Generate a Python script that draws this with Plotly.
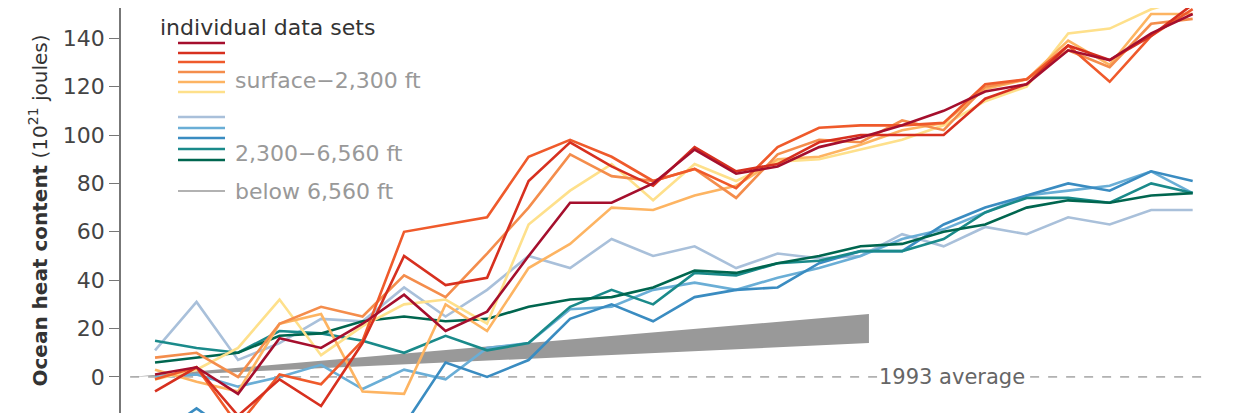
'''
Ocean heat content, individual data sets by depth layer
'''

import plotly.graph_objs as go

years = list(range(1993, 2019))

# surface - 2,300 ft
dark_red = [1, 4, -7, 16, 12, 22, 34, 19, 27, 50, 72, 72, 80, 94, 84, 87,
            95, 99, 104, 110, 118, 121, 135, 131, 142, 150]
red = [-6, 4, -16, -1, -12, 14, 50, 38, 41, 81, 97, 87, 79, 95, 85, 88,
       97, 100, 100, 100, 115, 121, 137, 131, 141, 154]
red_orange = [-1, 4, -20, 1, -3, 15, 60, 63, 66, 91, 98, 91, 81, 86, 78, 95,
              103, 104, 104, 105, 121, 123, 137, 122, 141, 152]
orange = [8, 10, 0, 22, 29, 25, 42, 33, 51, 70, 92, 83, 81, 86, 74, 92,
          98, 97, 106, 102, 120, 123, 135, 128, 146, 148]
light_orange = [3, -2, -6, 22, 26, -6, -7, 30, 19, 45, 55, 70, 69, 75, 79, 90,
                91, 96, 102, 105, 119, 123, 139, 129, 150, 150]
yellow = [-1, 3, 12, 32, 9, 21, 30, 32, 22, 63, 77, 88, 73, 88, 81, 89,
          90, 94, 98, 104, 114, 120, 142, 144, 152, 157]

# 2,300 - 6,560 ft
light_blue = [11, 31, 7, 14, 24, 23, 37, 25, 36, 50, 45, 57, 50, 54, 45, 51,
              49, 50, 59, 54, 62, 59, 66, 63, 69, 69]
blue_a = [0, 1, -4, 0, 5, -5, 3, -1, 12, 14, 28, 29, 36, 39, 36, 41,
          45, 50, 57, 61, 68, 75, 77, 79, 85, 76]
blue_b = [-25, -13, -25, -22, -28, -25, -20, 6, 0, 7, 24, 30, 23, 33, 36, 37,
          47, 52, 52, 63, 70, 75, 80, 77, 85, 81]
teal = [15, 12, 10, 19, 18, 15, 10, 17, 11, 14, 29, 36, 30, 43, 42, 47,
        48, 52, 52, 57, 68, 74, 74, 72, 80, 76]
dark_teal = [6, 8, 10, 17, 18, 23, 25, 23, 24, 29, 32, 33, 37, 44, 43, 47,
             50, 54, 55, 60, 63, 70, 73, 72, 75, 76]

# below 6,560 ft (trend band)
band_years = [1992.4, 2010.2]
band_low = [0, 14]
band_high = [0, 26]

warm = [(dark_red, '#a50f2d'), (red, '#d7301f'), (red_orange, '#ef5a2b'),
        (orange, '#f48d4c'), (light_orange, '#fdb462'), (yellow, '#fee08b')]
cool = [(light_blue, '#a9c0da'), (blue_a, '#6aaed6'), (blue_b, '#3a8cc1'),
        (teal, '#1a8a8a'), (dark_teal, '#00664f')]

data = [go.Scatter(x=band_years + band_years[::-1], y=band_high + band_low[::-1],
                   fill='toself', fillcolor='#999999', mode='lines',
                   line=dict(width=0, color='#999999'))]
for vals, col in cool + warm[::-1]:
    data.append(go.Scatter(x=years, y=vals, mode='lines',
                           line=dict(color=col, width=2.6)))

# page is offset by the 8px body margin, so work in shifted pixels
OFF = 8
W, H, L = 1240 - OFF, 413 - OFF, 121 - OFF
def px(x):
    return (x - OFF - L) / (W - L)
def py(y):
    return 1 - (y - OFF) / H

shapes = [dict(type='line', xref='x', yref='y', x0=1992.4, x1=2018.3, y0=0, y1=0,
               line=dict(color='#777', width=1, dash='dash'), layer='below')]
legend_rows = [(43, '#a50f2d'), (53, '#d7301f'), (62, '#ef5a2b'), (72, '#f48d4c'),
               (82, '#fdb462'), (92, '#fee08b'), (117, '#a9c0da'), (128, '#6aaed6'),
               (138, '#3a8cc1'), (149, '#1a8a8a'), (160, '#00664f'), (191, '#999999')]
for yy, col in legend_rows:
    shapes.append(dict(type='line', xref='paper', yref='paper', x0=px(178), x1=px(225),
                       y0=py(yy), y1=py(yy), line=dict(color=col, width=2.5 if yy != 191 else 1.5)))

grey = '#999999'
annotations = [
    dict(text='individual data sets', x=px(158), y=py(13), xanchor='left',
         font=dict(size=22, color='#333')),
    dict(text='surface\u22122,300 ft', x=px(233), y=py(66), xanchor='left',
         font=dict(size=22, color=grey)),
    dict(text='2,300\u22126,560 ft', x=px(233), y=py(139), xanchor='left',
         font=dict(size=22, color=grey)),
    dict(text='below 6,560 ft', x=px(233), y=py(191), xanchor='left',
         font=dict(size=22, color=grey)),
    dict(text='1993 average', xref='x', yref='y', x=2012.2, y=0, bgcolor='white',
         font=dict(size=21, color='#666'), showarrow=False),
]
for a in annotations:
    a.setdefault('xref', 'paper')
    a.setdefault('yref', 'paper')
    a['showarrow'] = False

layout = go.Layout(
    width=W, height=H, showlegend=False,
    margin=dict(l=L, r=0, t=0, b=0),
    plot_bgcolor='white', paper_bgcolor='white',
    font=dict(family='DejaVu Sans', color='#444'),
    xaxis=dict(range=[1992.18, 2019.14], visible=False),
    yaxis=dict(range=[-14.9, 152.5], tickvals=list(range(0, 161, 20)),
               showgrid=False, zeroline=False, showline=True, linecolor='#777',
               linewidth=1.5, ticks='outside', ticklen=10, tickcolor='#777',
               tickfont=dict(size=22, color='#444'),
               title=dict(text='<b>Ocean heat content</b> (10<sup>21</sup> joules)',
                          font=dict(size=20, color='#333'), standoff=10)),
    shapes=shapes, annotations=annotations,
)

fig = go.Figure(data=data, layout=layout)
fig.write_html('out.html')
